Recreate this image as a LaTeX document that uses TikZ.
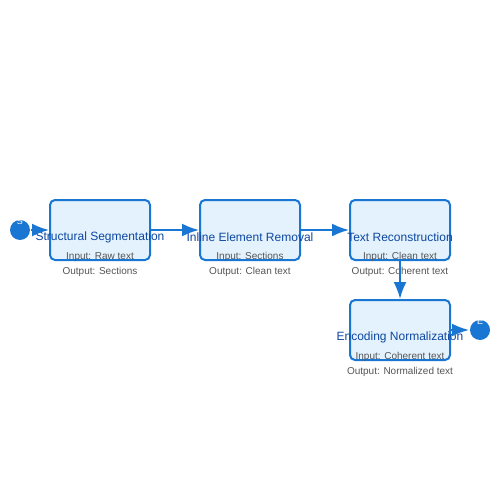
\documentclass[tikz,border=0pt]{standalone}
\usepackage{fontspec}
\setmainfont{Liberation Sans}
\usetikzlibrary{arrows.meta}
\definecolor{boxfill}{HTML}{E3F2FD}
\definecolor{boxline}{HTML}{1976D2}
\definecolor{titletext}{HTML}{0D47A1}
\definecolor{infotext}{HTML}{555555}
\begin{document}
\begin{tikzpicture}[
       x=1pt,y=-1pt,
       line width=2pt,
       etape/.style={
         rectangle,
         rounded corners=5pt,
         fill=boxfill,
         draw=boxline,
         line width=2pt,
         minimum width=100pt,
         minimum height=60pt
       },
       borne/.style={
         circle,
         fill=boxline,
         inner sep=0pt,
         minimum size=20pt
       },
       titre/.style={
         text=titletext,
         font=\fontsize{12}{14}\selectfont,
         inner sep=0pt
       },
       info/.style={
         text=infotext,
         font=\fontsize{10}{12}\selectfont,
         inner sep=0pt
       },
       lettre/.style={
         text=white,
         font=\fontsize{9}{10}\selectfont,
         inner sep=0pt
       },
       fleche/.style={
         draw=boxline,
         -{Latex[length=17pt,width=13pt]}
       }
     ]
       \useasboundingbox (0,0) rectangle (500,500);

       \node (s) at (20,230) [borne]{};
       \node (e) at (480,330) [borne]{};
       \node (ls) at (20,221) [lettre]{S};
       \node (le) at (480,321) [lettre]{E};

       \node (b1) at (100,230) [etape]{};
       \node (b2) at (250,230) [etape]{};
       \node (b3) at (400,230) [etape]{};
       \node (b4) at (400,330) [etape]{};

       \node (t1) at (100,237) [titre]{Structural Segmentation};
       \node (i1) at (100,257) [info]{Input: Raw text};
       \node (o1) at (100,272) [info]{Output: Sections};

       \node (t2) at (250,237) [titre]{Inline Element Removal};
       \node (i2) at (250,257) [info]{Input: Sections};
       \node (o2) at (250,272) [info]{Output: Clean text};

       \node (t3) at (400,237) [titre]{Text Reconstruction};
       \node (i3) at (400,257) [info]{Input: Clean text};
       \node (o3) at (400,272) [info]{Output: Coherent text};

       \node (t4) at (400,337) [titre]{Encoding Normalization};
       \node (i4) at (400,357) [info]{Input: Coherent text};
       \node (o4) at (400,372) [info]{Output: Normalized text};

       \draw[fleche] (s) -- (b1);
       \draw[fleche] (b1) -- (b2);
       \draw[fleche] (b2) -- (b3);
       \draw[fleche] (b3) -- (b4);
       \draw[fleche] (b4) -- (e);

\end{tikzpicture}
\end{document}
